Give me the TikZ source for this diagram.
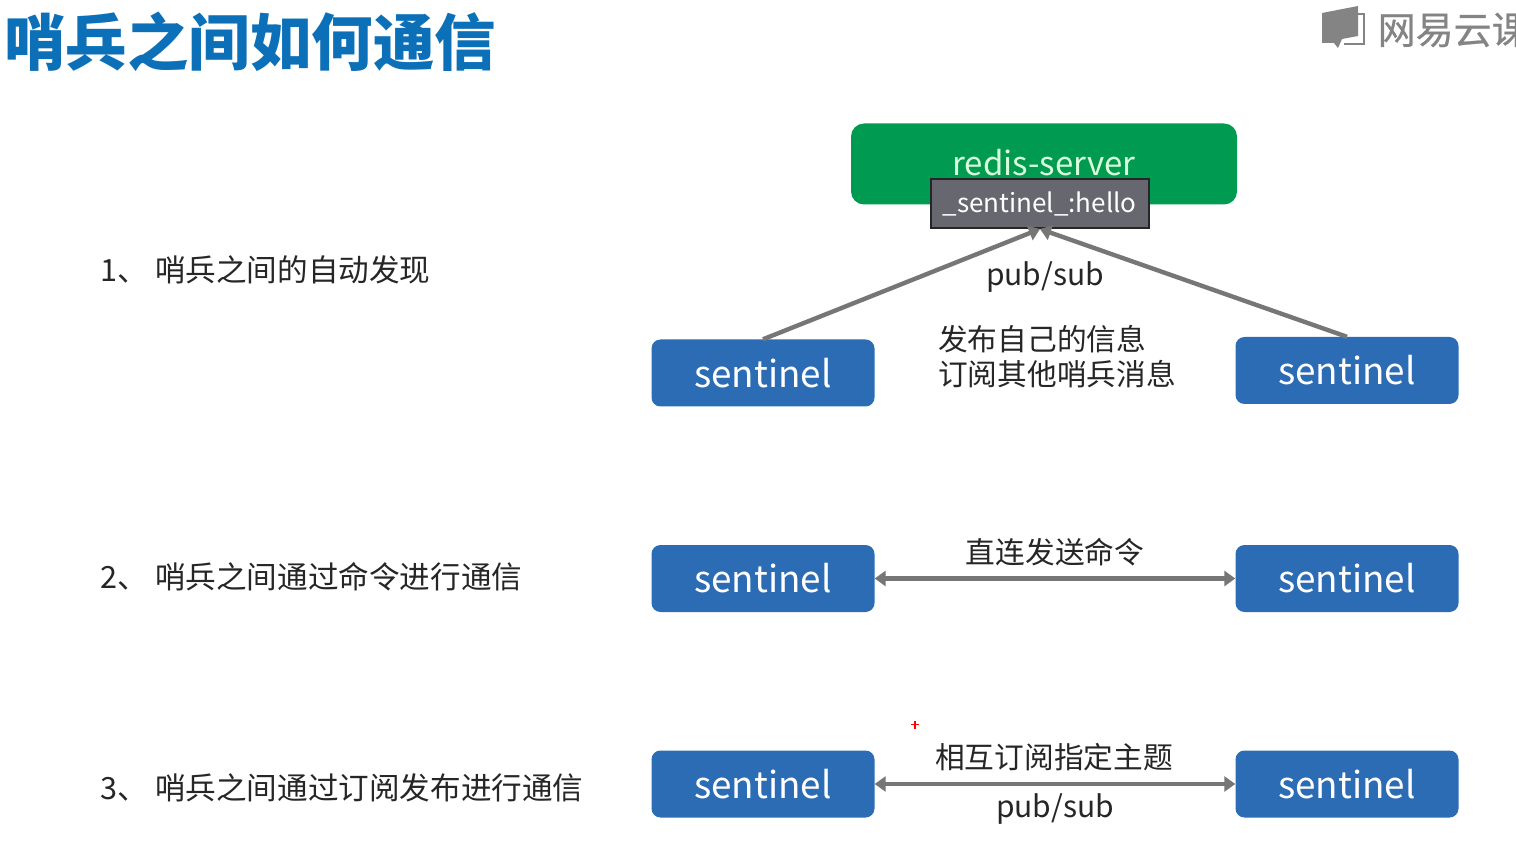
\documentclass[tikz,border=0pt]{standalone}
\usepackage{fontspec}
\setmainfont{Noto Sans CJK SC}
\newfontfamily\logofont[FakeBold=0.6]{Noto Sans CJK SC}
\usetikzlibrary{arrows.meta}
\definecolor{sentblue}{HTML}{2B6CB5}
\definecolor{srvgreen}{HTML}{009A50}
\definecolor{topicgrey}{HTML}{67676F}
\definecolor{linegrey}{HTML}{767676}
\definecolor{titleblue}{HTML}{0B70B8}
\definecolor{txt}{HTML}{262626}
\tikzset{
  x=1pt,y=-1pt,
  sentbox/.style={fill=sentblue,rounded corners=9pt,minimum width=223pt,minimum height=67pt,inner sep=0pt,text=white,font=\fontsize{36.8}{36.8}\selectfont},
  lbl/.style={anchor=west,inner sep=0pt,text=txt,font=\fontsize{30.6}{30.6}\selectfont},
  capt/.style={inner sep=0pt,text=txt,font=\fontsize{29.7}{29.7}\selectfont},
  link/.style={draw=linegrey,line width=4.4pt,-{Triangle[length=11pt,width=15pt]}},
  biglink/.style={draw=linegrey,line width=4.4pt,{Triangle[length=11pt,width=15pt]}-{Triangle[length=11pt,width=15pt]}},
}
\begin{document}
\begin{tikzpicture}
\useasboundingbox (0,0) rectangle (1516,858);
\fill[white] (0,0) rectangle (1516,858);
\node[anchor=west,inner sep=0pt,text=titleblue,font=\fontsize{61.5}{61.5}\selectfont\bfseries] (title) at (4,42) {哨兵之间如何通信};
% logo
\begin{scope}
\clip (0,0) rectangle (1516,858);
\fill[linegrey!90] (1322,13) -- (1358,6) -- (1358,36) -- (1342,39) -- (1338,48) -- (1334,43) -- (1322,43) -- cycle;
\draw[linegrey!90,line width=2.4pt] (1358,14) -- (1364,14) -- (1364,44) -- (1344,44);
\node[anchor=west,inner sep=0pt,text=linegrey!90,font=\fontsize{38}{38}\selectfont\logofont] (logo) at (1377.5,30) {网易云课};
\end{scope}
% row labels
\node[lbl] (l1) at (100.5,270) {1、 哨兵之间的自动发现};
\node[lbl] (l2) at (100.5,577) {2、 哨兵之间通过命令进行通信};
\node[lbl] (l3) at (100.5,788) {3、 哨兵之间通过订阅发布进行通信};
% server
\node[fill=srvgreen,rounded corners=13pt,minimum width=386pt,minimum height=81pt,inner sep=0pt] (srv) at (1044,164) {};
\node[inner sep=0pt,text=white!85!green,font=\fontsize{33}{33}\selectfont] (srvt) at (1044,163) {redis-server};
\node[fill=topicgrey,draw=black!85,line width=2pt,minimum width=218pt,minimum height=49pt,inner sep=0pt,text=white,font=\fontsize{26}{26}\selectfont] (topic) at (1039.5,204) {\_sentinel\_:hello};
% sentinels
\node[sentbox] (s1) at (763,373) {sentinel};
\node[sentbox] (s2) at (1347,370.5) {sentinel};
\node[sentbox] (s3) at (763,578.5) {sentinel};
\node[sentbox] (s4) at (1347,578.5) {sentinel};
\node[sentbox] (s5) at (763,784) {sentinel};
\node[sentbox] (s6) at (1347,784) {sentinel};
\coordinate (apex) at (1040,229);
% connectors
\draw[link] (s1.north) -- (apex);
\draw[link] (s2.north) -- (apex);
\draw[biglink] (s3.east) -- (s4.west);
\draw[biglink] (s5.east) -- (s6.west);
% captions
\node[capt,font=\fontsize{30}{30}\selectfont] (ps1) at (1045,277) {pub/sub};
\node[capt,anchor=west] (c1) at (938,339) {发布自己的信息};
\node[capt,anchor=west] (c2) at (938,374) {订阅其他哨兵消息};
\node[capt] (c3) at (1055,552) {直连发送命令};
\node[capt] (c4) at (1054,757) {相互订阅指定主题};
\node[capt,font=\fontsize{30}{30}\selectfont] (ps2) at (1055,809) {pub/sub};
% pointer mark
\draw[red,line width=1.2pt] (911,724.5) -- (919,724.5) (915,720.5) -- (915,728.5);
\end{tikzpicture}
\end{document}
